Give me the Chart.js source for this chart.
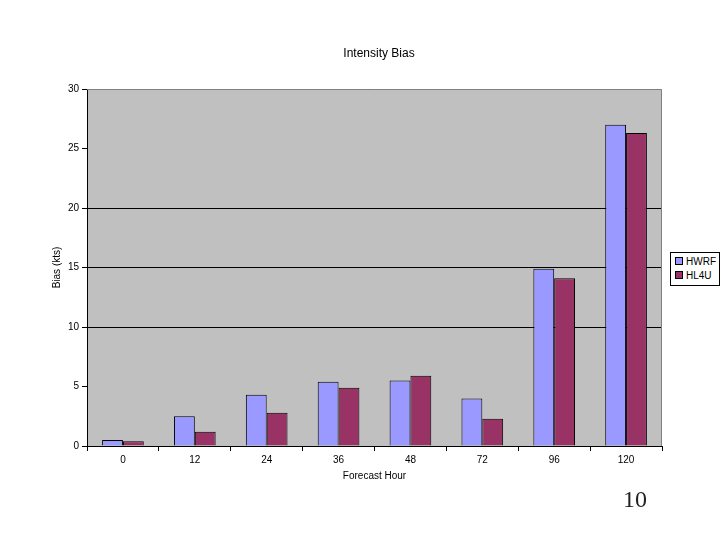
<!DOCTYPE html>
<html>
<head>
<meta charset="utf-8">
<script src="https://cdn.jsdelivr.net/npm/chart.js@4/dist/chart.umd.min.js"></script>
<style>
  html, body { margin: 0; padding: 0; background: #fff; }
  #wrap { position: relative; width: 720px; height: 540px; font-family: "Liberation Sans", Arial, sans-serif; }
  #chart { position: absolute; left: 0; top: 0; }
  #title { position: absolute; left: 279px; width: 200px; top: 46px; text-align: center; font-size: 12px; color: #000; }
  #legend { position: absolute; left: 670px; top: 252px; width: 48px; height: 32px; background: #fff; border: 1px solid #000; font-size: 10px; }
  #legend .item { position: absolute; left: 4px; height: 12px; line-height: 12px; white-space: nowrap; }
  #legend .sw { display: inline-block; width: 6px; height: 6px; border: 1px solid #000; margin-right: 3px; vertical-align: 0px; }
  #page { position: absolute; left: 610px; width: 50px; top: 486px; text-align: center; font-family: "Liberation Serif", "Times New Roman", serif; font-size: 24px; color: #222; }
</style>
</head>
<body>
<div id="wrap">
  <canvas id="chart" width="720" height="540"></canvas>
  <div id="title">Intensity Bias</div>
  <div id="legend"></div>
  <div id="page">10</div>
</div>
<script>
// ---- data ----
const hours = ['0', '12', '24', '36', '48', '72', '96', '120'];
const hwrf = [0.5, 2.5, 4.3, 5.4, 5.5, 4.0, 14.9, 27.0];
const hl4u = [0.4, 1.2, 2.8, 4.9, 5.9, 2.3, 14.1, 26.3];
const yTicks = [0, 5, 10, 15, 20, 25, 30];

const seriesNames = ['HWRF', 'HL4U'];
const seriesColors = ['#9999FF', '#993366'];

// gray plot background + light top/right frame
const plotBg = {
  id: 'plotBg',
  beforeDraw(chart) {
    const { ctx, chartArea: a } = chart;
    ctx.save();
    ctx.fillStyle = '#C0C0C0';
    ctx.fillRect(a.left, a.top, a.right - a.left, a.bottom - a.top);
    ctx.restore();
  },
  afterDraw(chart) {
    const { ctx, chartArea: a } = chart;
    ctx.save();
    ctx.strokeStyle = '#808080';
    ctx.lineWidth = 1;
    ctx.beginPath();
    ctx.moveTo(a.left, a.top + 0.5);
    ctx.lineTo(a.right - 0.5, a.top + 0.5);
    ctx.lineTo(a.right - 0.5, a.bottom);
    ctx.stroke();
    ctx.restore();
  }
};

const tickFont = { family: 'Liberation Sans', size: 10 };

new Chart(document.getElementById('chart'), {
  type: 'bar',
  data: {
    labels: hours,
    datasets: [
      { label: seriesNames[0], data: hwrf, backgroundColor: seriesColors[0], borderColor: '#000', borderWidth: 1 },
      { label: seriesNames[1], data: hl4u, backgroundColor: seriesColors[1], borderColor: '#000', borderWidth: 1 }
    ]
  },
  options: {
    responsive: false,
    animation: false,
    layout: { padding: { left: 0, top: 89, right: 58, bottom: 0 } },
    datasets: { bar: { categoryPercentage: 0.58, barPercentage: 1.0 } },
    plugins: {
      legend: { display: false },
      title: { display: false },
      tooltip: { enabled: false }
    },
    scales: {
      x: {
        grid: { offset: true, drawOnChartArea: false, drawTicks: true, tickLength: 5, tickColor: '#000' },
        border: { color: '#000', width: 1 },
        ticks: { color: '#000', font: tickFont, padding: 3, maxRotation: 0 },
        title: { display: true, text: 'Forecast Hour', color: '#000', font: tickFont, padding: { top: 0, bottom: 58 } },
        afterFit: (s) => { s.height = 94; }
      },
      y: {
        min: 0,
        max: 30,
        afterBuildTicks: (s) => { s.ticks = yTicks.map(v => ({ value: v })); },
        grid: {
          color: (c) => ([10, 15, 20].includes(c.tick && c.tick.value) ? '#000' : 'rgba(0,0,0,0)'),
          tickColor: '#000',
          tickLength: 5,
          lineWidth: 1
        },
        border: { color: '#000', width: 1 },
        ticks: { color: '#000', font: tickFont, padding: 3 },
        title: { display: true, text: 'Bias (kts)', color: '#000', font: tickFont, padding: { top: 51, bottom: 0 } },
        afterFit: (s) => { s.width = 87; }
      }
    }
  },
  plugins: [plotBg]
});

// legend box
const legend = document.getElementById('legend');
seriesNames.forEach((name, i) => {
  const item = document.createElement('div');
  item.className = 'item';
  item.style.top = (3 + i * 14) + 'px';
  item.innerHTML = '<span class="sw" style="background:' + seriesColors[i] + '"></span>' + name;
  legend.appendChild(item);
});
</script>
</body>
</html>
